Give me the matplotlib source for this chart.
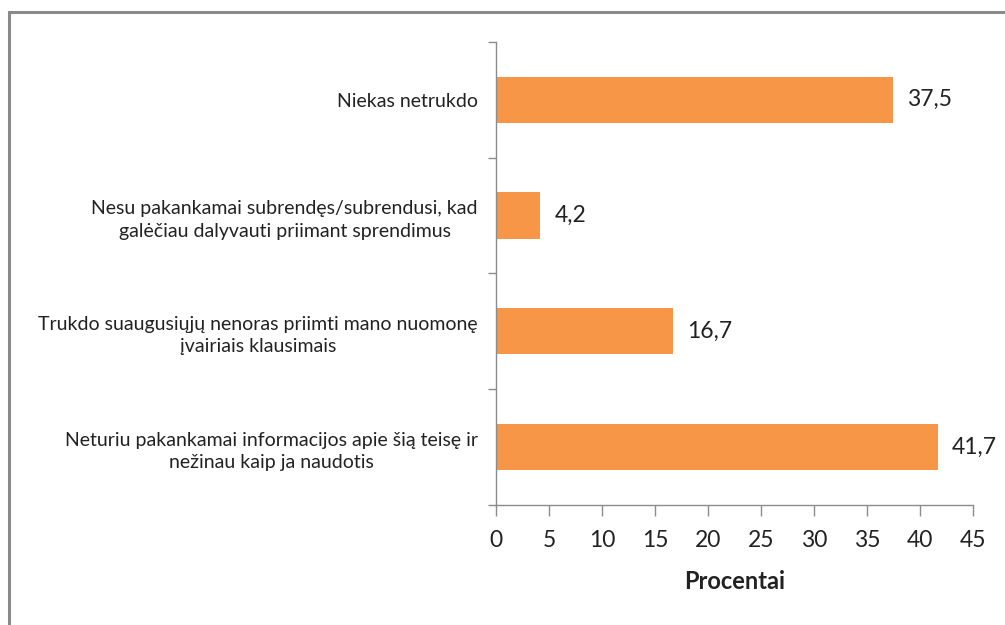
import matplotlib
matplotlib.use("Agg")
import matplotlib.pyplot as plt
from matplotlib.patches import Rectangle

categories = [
    "Niekas netrukdo",
    "Nesu pakankamai subrendęs/subrendusi, kad\ngalėčiau dalyvauti priimant sprendimus",
    "Trukdo suaugusiųjų nenoras priimti mano nuomonę\nįvairiais klausimais",
    "Neturiu pakankamai informacijos apie šią teisę ir\nnežinau kaip ja naudotis",
]
values = [37.5, 4.2, 16.7, 41.7]
xticks = [0, 5, 10, 15, 20, 25, 30, 35, 40, 45]
xlabel = "Procentai"

plt.rcParams['font.family'] = ['Lato', 'DejaVu Sans']

fig = plt.figure(figsize=(10.05, 6.25), dpi=100)
ax = fig.add_axes([0.4935, 0.192, 0.4745, 0.741])

ypos = list(range(len(categories)))
ax.barh(ypos, values, height=0.4, color="#F79646", zorder=2)
for y, v in zip(ypos, values):
    ax.text(v + 1.3, y, f"{v:.1f}".replace(".", ","), va="center", ha="left",
            fontsize=16.5, color="#222222", clip_on=False)

ax.set_xlim(0, 45)
ax.set_ylim(len(categories) - 0.5, -0.5)
ax.set_xticks(xticks)
ax.set_xticklabels([str(t) for t in xticks], fontsize=16.5, color="#222222")
ax.set_yticks(ypos)
ax.set_yticklabels(categories, fontsize=14, color="#222222", multialignment="center",
                   linespacing=1.4)
ax.tick_params(axis="y", which="major", length=0, pad=13)
ax.set_yticks([i - 0.5 for i in range(len(categories) + 1)], minor=True)
ax.tick_params(axis="y", which="minor", length=6, color="#8c8c8c", width=1)
ax.tick_params(axis="x", which="major", length=8, color="#8c8c8c", width=1, pad=10)
ax.set_xlabel(xlabel, fontsize=17, fontweight="bold", color="#222222", labelpad=14)

for s in ["top", "right"]:
    ax.spines[s].set_visible(False)
for s in ["left", "bottom"]:
    ax.spines[s].set_color("#8c8c8c")
    ax.spines[s].set_linewidth(1)

border = Rectangle((9 / 1005, -0.05), 1.1, 1 - 12 / 625 + 0.05, transform=fig.transFigure,
                   fill=False, edgecolor="#8a8a8a", linewidth=2.2, clip_on=False)
fig.patches.append(border)

fig.savefig("out.png", dpi=100)
